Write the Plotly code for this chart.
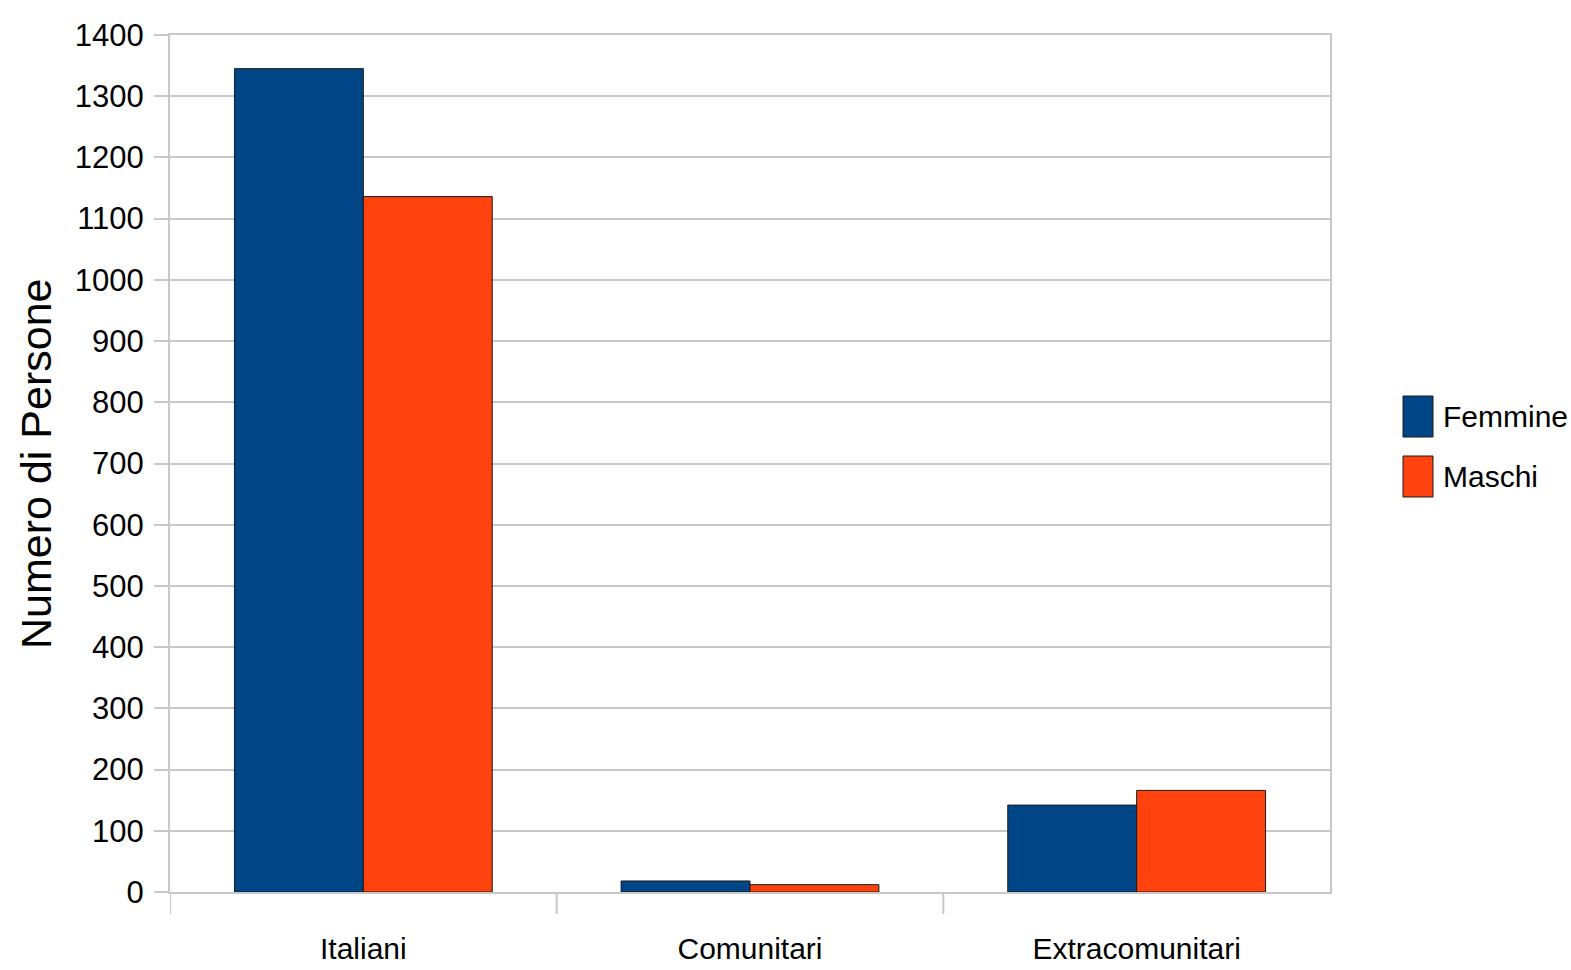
import plotly.graph_objects as go

categories = ["Italiani", "Comunitari", "Extracomunitari"]
femmine = [1345, 18, 142]
maschi = [1136, 12, 166]
series_names = ["Femmine", "Maschi"]
y_ticks = list(range(0, 1401, 100))

COL_F = "#004586"
COL_M = "#ff420e"
GRID = "#c8c8c8"
FONT = "Liberation Sans, Arial, sans-serif"

fig = go.Figure()
for name, vals, col in zip(series_names, [femmine, maschi], [COL_F, COL_M]):
    fig.add_trace(go.Bar(
        x=categories, y=vals, name=name,
        marker=dict(color=col, line=dict(color="#1a1a1a", width=1)),
        showlegend=False,
    ))

W, H = 1571, 970
L, R, T, B = 170, 241, 35, 78
PW, PH = W - L - R, H - T - B

fig.update_layout(
    width=W, height=H,
    margin=dict(l=L, r=R, t=T, b=B, autoexpand=False),
    paper_bgcolor="white", plot_bgcolor="white",
    barmode="group", bargap=1/3, bargroupgap=0,
    font=dict(family=FONT, size=30, color="#000000"),
    xaxis=dict(
        range=[-0.5, 2.5], automargin=False,
        showgrid=False, showline=True, linecolor=GRID, linewidth=2,
        mirror=True, ticks="", ticklabelstandoff=29,
        tickfont=dict(family=FONT, size=30),
    ),
    yaxis=dict(
        range=[0, 1400], tickvals=y_ticks, automargin=False,
        showgrid=True, gridcolor=GRID, gridwidth=2,
        showline=True, linecolor=GRID, linewidth=2, mirror=True,
        ticks="outside", ticklen=14, tickwidth=2, tickcolor=GRID,
        ticklabelstandoff=4,
        tickfont=dict(family=FONT, size=31),
        zeroline=False,
    ),
)

# Category boundary ticks below the x axis (none at the far right end)
for xb in [-0.5, 0.5, 1.5]:
    fig.add_shape(type="line", xref="x", yref="paper",
                  x0=xb, x1=xb, y0=0, y1=-22 / PH,
                  line=dict(color=GRID, width=2))

# Y axis title
fig.add_annotation(xref="paper", yref="paper",
                   x=(36 - L) / PW, y=(892 - 464) / PH,
                   text="Numero di Persone", textangle=-90, showarrow=False,
                   xanchor="center", yanchor="middle",
                   font=dict(family=FONT, size=43, color="#000000"))

# Legend swatches and labels
legend_rows = [((892 - 416.5) / PH, series_names[0], COL_F),
               ((892 - 476.5) / PH, series_names[1], COL_M)]
for yc, label, col in legend_rows:
    fig.add_shape(type="rect", xref="paper", yref="paper",
                  x0=(1403 - L) / PW, x1=(1433 - L) / PW,
                  y0=yc - 20.5 / PH, y1=yc + 20.5 / PH,
                  fillcolor=col, line=dict(color="#1a1a1a", width=1))
    fig.add_annotation(xref="paper", yref="paper",
                       x=(1441 - L) / PW, y=yc, text=label,
                       showarrow=False, xanchor="left", yanchor="middle",
                       font=dict(family=FONT, size=30, color="#000000"))

fig.write_html("out.html")
